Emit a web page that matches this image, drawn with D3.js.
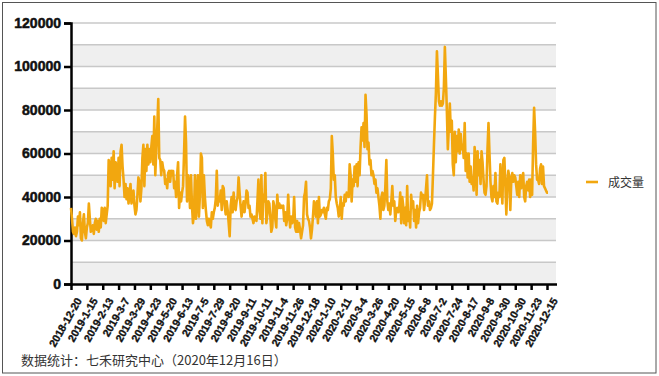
<!DOCTYPE html>
<html>
<head>
<meta charset="utf-8">
<script src="https://cdn.jsdelivr.net/npm/d3@7"></script>
<style>
  body { margin: 0; background: #fff; }
  svg { display: block; }
</style>
</head>
<body>
<div id="chart"></div>
<script>
// x axis labels, one every 16 trading days
const tickLabels = ["2018-12-20", "2019-1-15", "2019-2-13", "2019-3-7", "2019-3-29", "2019-4-23",
  "2019-5-20", "2019-6-13", "2019-7-5", "2019-7-29", "2019-8-20", "2019-9-11", "2019-10-11",
  "2019-11-4", "2019-11-26", "2019-12-18", "2020-1-10", "2020-2-11", "2020-3-4", "2020-3-26",
  "2020-4-20", "2020-5-15", "2020-6-8", "2020-7-2", "2020-7-24", "2020-8-17", "2020-9-8",
  "2020-9-30", "2020-10-30", "2020-11-23", "2020-12-15"];
const tickStep = 16;

const yTicks = [0, 20000, 40000, 60000, 80000, 100000, 120000];

// daily volume (成交量), one row per 16 trading days
const volume = [
  35000, 30000, 24000, 23000, 26000, 22000, 24000, 31000, 27000, 33000, 21000, 20000, 28000, 32000, 24000, 21000,
  26000, 28000, 37000, 30000, 24000, 25000, 27000, 23000, 28000, 30000, 25000, 29000, 24000, 30000, 26000, 35000,
  34000, 29000, 35000, 28000, 32000, 36000, 57000, 55000, 45000, 58000, 48000, 61000, 44000, 56000, 52000, 47000,
  58000, 45000, 61000, 64000, 54000, 48000, 40000, 46000, 39000, 44000, 37000, 41000, 46000, 37000, 40000, 43000,
  36000, 32000, 34000, 41000, 49000, 47000, 38000, 44000, 58000, 64000, 45000, 62000, 52000, 64000, 55000, 62000,
  56000, 63000, 68000, 55000, 77000, 50000, 62000, 72000, 85000, 58000, 57000, 50000, 56000, 53000, 52000, 46000,
  48000, 44000, 51000, 52000, 47000, 52000, 50000, 52000, 44000, 47000, 40000, 50000, 56000, 35000, 42000, 38000,
  42000, 45000, 60000, 77000, 65000, 38000, 50000, 46000, 35000, 50000, 36000, 28000, 32000, 50000, 30000, 40000,
  50000, 31000, 41000, 60000, 58000, 35000, 50000, 40000, 34000, 29000, 27000, 30000, 28000, 26000, 33000, 30000,
  33000, 35000, 39000, 52000, 36000, 40000, 38000, 43000, 34000, 45000, 44000, 36000, 32000, 38000, 34000, 28000,
  22000, 36000, 40000, 33000, 42000, 35000, 34000, 38000, 40000, 49000, 42000, 36000, 31000, 35000, 38000, 33000,
  37000, 43000, 42000, 35000, 36000, 31000, 32000, 30000, 28000, 31000, 30000, 29000, 38000, 48000, 34000, 30000,
  50000, 28000, 41000, 38000, 51000, 28000, 32000, 38000, 37000, 31000, 24000, 26000, 38000, 36000, 30000, 26000,
  41000, 35000, 37000, 35000, 36000, 35000, 36000, 29000, 33000, 27000, 30000, 41000, 32000, 26000, 31000, 28000,
  29000, 40000, 26000, 24000, 29000, 24000, 28000, 25000, 21000, 24000, 27000, 40000, 42000, 47000, 32000, 30000,
  29000, 26000, 21000, 25000, 31000, 38000, 36000, 31000, 38000, 28000, 40000, 31000, 32000, 34000, 33000, 35000,
  32000, 30000, 35000, 34000, 38000, 39000, 44000, 68000, 60000, 48000, 50000, 40000, 37000, 35000, 31000, 33000,
  40000, 30000, 37000, 36000, 41000, 38000, 42000, 41000, 40000, 55000, 50000, 38000, 48000, 45000, 54000, 47000,
  55000, 45000, 56000, 50000, 63000, 72000, 66000, 74000, 63000, 87000, 78000, 62000, 65000, 55000, 57000, 50000,
  52000, 50000, 46000, 48000, 42000, 44000, 40000, 36000, 30000, 40000, 42000, 34000, 36000, 45000, 57000, 38000,
  34000, 37000, 32000, 38000, 45000, 36000, 38000, 29000, 34000, 35000, 33000, 35000, 42000, 28000, 40000, 36000,
  28000, 35000, 27000, 45000, 29000, 33000, 26000, 41000, 35000, 38000, 29000, 34000, 26000, 36000, 28000, 33000,
  35000, 42000, 40000, 41000, 34000, 38000, 44000, 50000, 36000, 38000, 34000, 35000, 37000, 50000, 64000, 77000,
  88000, 107000, 96000, 84000, 82000, 84000, 82000, 83000, 90000, 109000, 95000, 80000, 62000, 72000, 83000, 70000,
  75000, 55000, 50000, 70000, 56000, 68000, 61000, 71000, 60000, 69000, 62000, 64000, 58000, 74000, 52000, 60000,
  49000, 60000, 47000, 54000, 46000, 49000, 43000, 63000, 57000, 41000, 61000, 50000, 57000, 46000, 61000, 56000,
  48000, 42000, 41000, 45000, 62000, 74000, 60000, 47000, 40000, 38000, 45000, 40000, 51000, 38000, 37000, 42000,
  40000, 55000, 46000, 37000, 57000, 58000, 46000, 32000, 46000, 52000, 49000, 34000, 48000, 51000, 47000, 50000,
  49000, 45000, 41000, 47000, 40000, 50000, 44000, 49000, 51000, 40000, 38000, 45000, 47000, 43000, 48000, 40000,
  48000, 41000, 64000, 81000, 70000, 55000, 48000, 48000, 46000, 53000, 55000, 46000, 54000, 45000, 44000, 43000,
  42000, 42000
];

const W = 659, H = 376;
const plot = {left: 71, right: 556, top: 23, bottom: 284};
const lastTick = (tickLabels.length - 1) * tickStep;
const boldFont = "'Liberation Sans', Arial, sans-serif";

const svg = d3.select("#chart").append("svg")
    .attr("width", W)
    .attr("height", H);

// outer frame
svg.append("rect")
    .attr("x", 2.5).attr("y", 2.5)
    .attr("width", 653.5).attr("height", 370.5)
    .attr("fill", "#fff")
    .attr("stroke", "#555")
    .attr("stroke-width", 1);

const x = d3.scaleLinear()
    .domain([0, lastTick])
    .range([plot.left, 547]);

const y = d3.scaleLinear()
    .domain([0, 120000])
    .range([plot.bottom, plot.top]);

// alternating bands, every 10000
const bands = d3.range(0, 120000, 10000);
svg.append("g").selectAll("rect")
    .data(bands)
    .join("rect")
    .attr("x", plot.left)
    .attr("width", plot.right - plot.left)
    .attr("y", d => y(d + 10000))
    .attr("height", d => y(d) - y(d + 10000))
    .attr("fill", d => (d / 10000) % 2 === 0 ? "#efefef" : "#fff");

// gridlines
svg.append("g").selectAll("line")
    .data(d3.range(10000, 120001, 10000))
    .join("line")
    .attr("x1", plot.left).attr("x2", plot.right)
    .attr("y1", d => y(d)).attr("y2", d => y(d))
    .attr("stroke", "#c8c8c8")
    .attr("stroke-width", 1.3);

// y axis
const yAxis = svg.append("g")
    .attr("transform", "translate(" + plot.left + ",0)")
    .call(d3.axisLeft(y).tickValues(yTicks).tickSize(7).tickPadding(3).tickFormat(d3.format("d")));
yAxis.select(".domain").attr("stroke", "#000").attr("stroke-width", 2.5);
yAxis.selectAll(".tick line").attr("stroke", "#000").attr("stroke-width", 2.5);
yAxis.selectAll("text")
    .style("font-family", boldFont)
    .style("font-weight", "bold")
    .style("font-size", "14px")
    .style("fill", "#111")
    .style("stroke", "#111")
    .style("stroke-width", "0.5px");

// line
svg.append("path")
    .datum(volume)
    .attr("fill", "none")
    .attr("stroke", "#f2a70f")
    .attr("stroke-width", 2.6)
    .attr("stroke-linejoin", "round")
    .attr("d", d3.line().x((d, i) => x(i)).y(d => y(d)));

// x axis
const xAxis = svg.append("g")
    .attr("transform", "translate(0," + plot.bottom + ")")
    .call(d3.axisBottom(x)
        .tickValues(d3.range(0, lastTick + 1, tickStep))
        .tickFormat((d, i) => tickLabels[i])
        .tickSize(6).tickSizeOuter(0));
xAxis.select(".domain")
    .attr("d", "M" + plot.left + ",0.5H" + (plot.right + 1))
    .attr("stroke", "#000").attr("stroke-width", 2.5);
xAxis.selectAll(".tick line").attr("stroke", "#000").attr("stroke-width", 2.5);
xAxis.selectAll("text")
    .style("font-family", boldFont)
    .style("font-weight", "bold")
    .style("font-size", "10.7px")
    .style("fill", "#111")
    .style("stroke", "#111")
    .style("stroke-width", "0.35px")
    .attr("text-anchor", "end")
    .attr("dx", 0).attr("dy", 0)
    .attr("transform", "translate(3,12) rotate(-60)");

// legend
svg.append("line")
    .attr("x1", 586).attr("x2", 598)
    .attr("y1", 182).attr("y2", 182)
    .attr("stroke", "#f2a70f")
    .attr("stroke-width", 2.6);
svg.append("text")
    .attr("x", 608).attr("y", 186.5)
    .style("font-family", "'Noto Sans CJK SC'")
    .style("font-size", "12px")
    .style("fill", "#333")
    .text("成交量");

// source note
svg.append("text")
    .attr("x", 21).attr("y", 365)
    .style("font-family", "'Noto Sans CJK SC'")
    .style("font-size", "13px")
    .style("fill", "#333")
    .text("数据统计：七禾研究中心（2020年12月16日）");
</script>
</body>
</html>
